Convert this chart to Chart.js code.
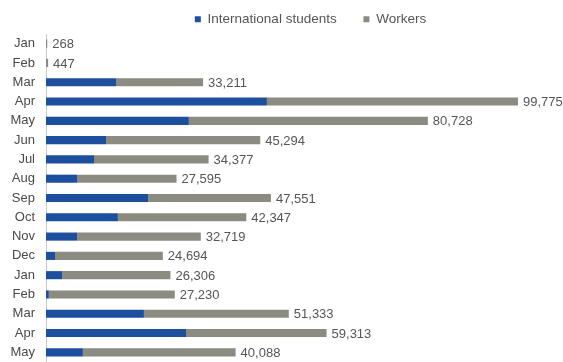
<!DOCTYPE html>
<html>
<head>
<meta charset="utf-8">
<script src="https://cdn.jsdelivr.net/npm/chart.js@4/dist/chart.umd.min.js"></script>
<style>
  html, body { margin: 0; padding: 0; background: #fff; overflow: hidden; }
  canvas { display: block; }
</style>
</head>
<body>
<canvas id="c" width="563" height="362"></canvas>
<script>
const months = ['Jan', 'Feb', 'Mar', 'Apr', 'May', 'Jun', 'Jul', 'Aug', 'Sep', 'Oct', 'Nov', 'Dec', 'Jan', 'Feb', 'Mar', 'Apr', 'May'];
const students = [0, 0, 14800, 46700, 30200, 12700, 10150, 6550, 21560, 15200, 6550, 1900, 3380, 600, 20700, 29600, 7800];
const workers = [268, 447, 18411, 53075, 50528, 32594, 24227, 21045, 25991, 27147, 26169, 22794, 22926, 26630, 30633, 29713, 32288];

// total label at the end of each stacked bar
const totalLabels = {
  id: 'totalLabels',
  afterDatasetsDraw(chart) {
    const ctx = chart.ctx;
    const last = chart.getDatasetMeta(chart.data.datasets.length - 1);
    ctx.save();
    ctx.font = '13px "Liberation Sans", Arial, sans-serif';
    ctx.fillStyle = '#555';
    ctx.textAlign = 'left';
    ctx.textBaseline = 'middle';
    last.data.forEach((bar, i) => {
      const total = students[i] + workers[i];
      ctx.fillText(total.toLocaleString('en-US'), bar.x + 5, bar.y + 1);
    });
    ctx.restore();
  }
};

// legend in the source sits right of centre
const legendShift = {
  id: 'legendShift',
  afterLayout(chart) {
    const lg = chart.legend;
    lg.left += 29; lg.right += 29;
    lg.top += 2; lg.bottom += 2;
  }
};

new Chart(document.getElementById('c'), {
  type: 'bar',
  data: {
    labels: months,
    datasets: [
      { label: 'International students', data: students, backgroundColor: '#1c4f9e', categoryPercentage: 0.42, barPercentage: 1 },
      { label: 'Workers', data: workers, backgroundColor: '#8b8b81', categoryPercentage: 0.42, barPercentage: 1 }
    ]
  },
  options: {
    indexAxis: 'y',
    responsive: false,
    animation: false,
    layout: { padding: { left: 0, top: 2.5, right: 0, bottom: 0 } },
    plugins: {
      legend: {
        display: true,
        position: 'top',
        labels: {
          boxWidth: 6,
          boxHeight: 6,
          padding: 8,
          color: '#555',
          font: { family: '"Liberation Sans", Arial, sans-serif', size: 13.5 },
          generateLabels(chart) {
            const items = Chart.defaults.plugins.legend.labels.generateLabels(chart);
            items.forEach(it => { it.lineWidth = 0; });
            items[0].text = items[0].text + '\u00a0'.repeat(5);
            return items;
          }
        }
      },
      tooltip: { enabled: false }
    },
    scales: {
      x: {
        stacked: true,
        display: false,
        min: 0,
        max: 109300
      },
      y: {
        stacked: true,
        grid: { display: false },
        border: { display: true, color: '#c8c8c8' },
        ticks: {
          color: '#4a4a4a',
          padding: 3,
          font: { family: '"Liberation Sans", Arial, sans-serif', size: 13 }
        },
        afterFit(scale) {
          scale.width = 46;
          scale.paddingTop = 0;
          scale.paddingBottom = 0;
        }
      }
    }
  },
  plugins: [totalLabels, legendShift]
});
</script>
</body>
</html>
